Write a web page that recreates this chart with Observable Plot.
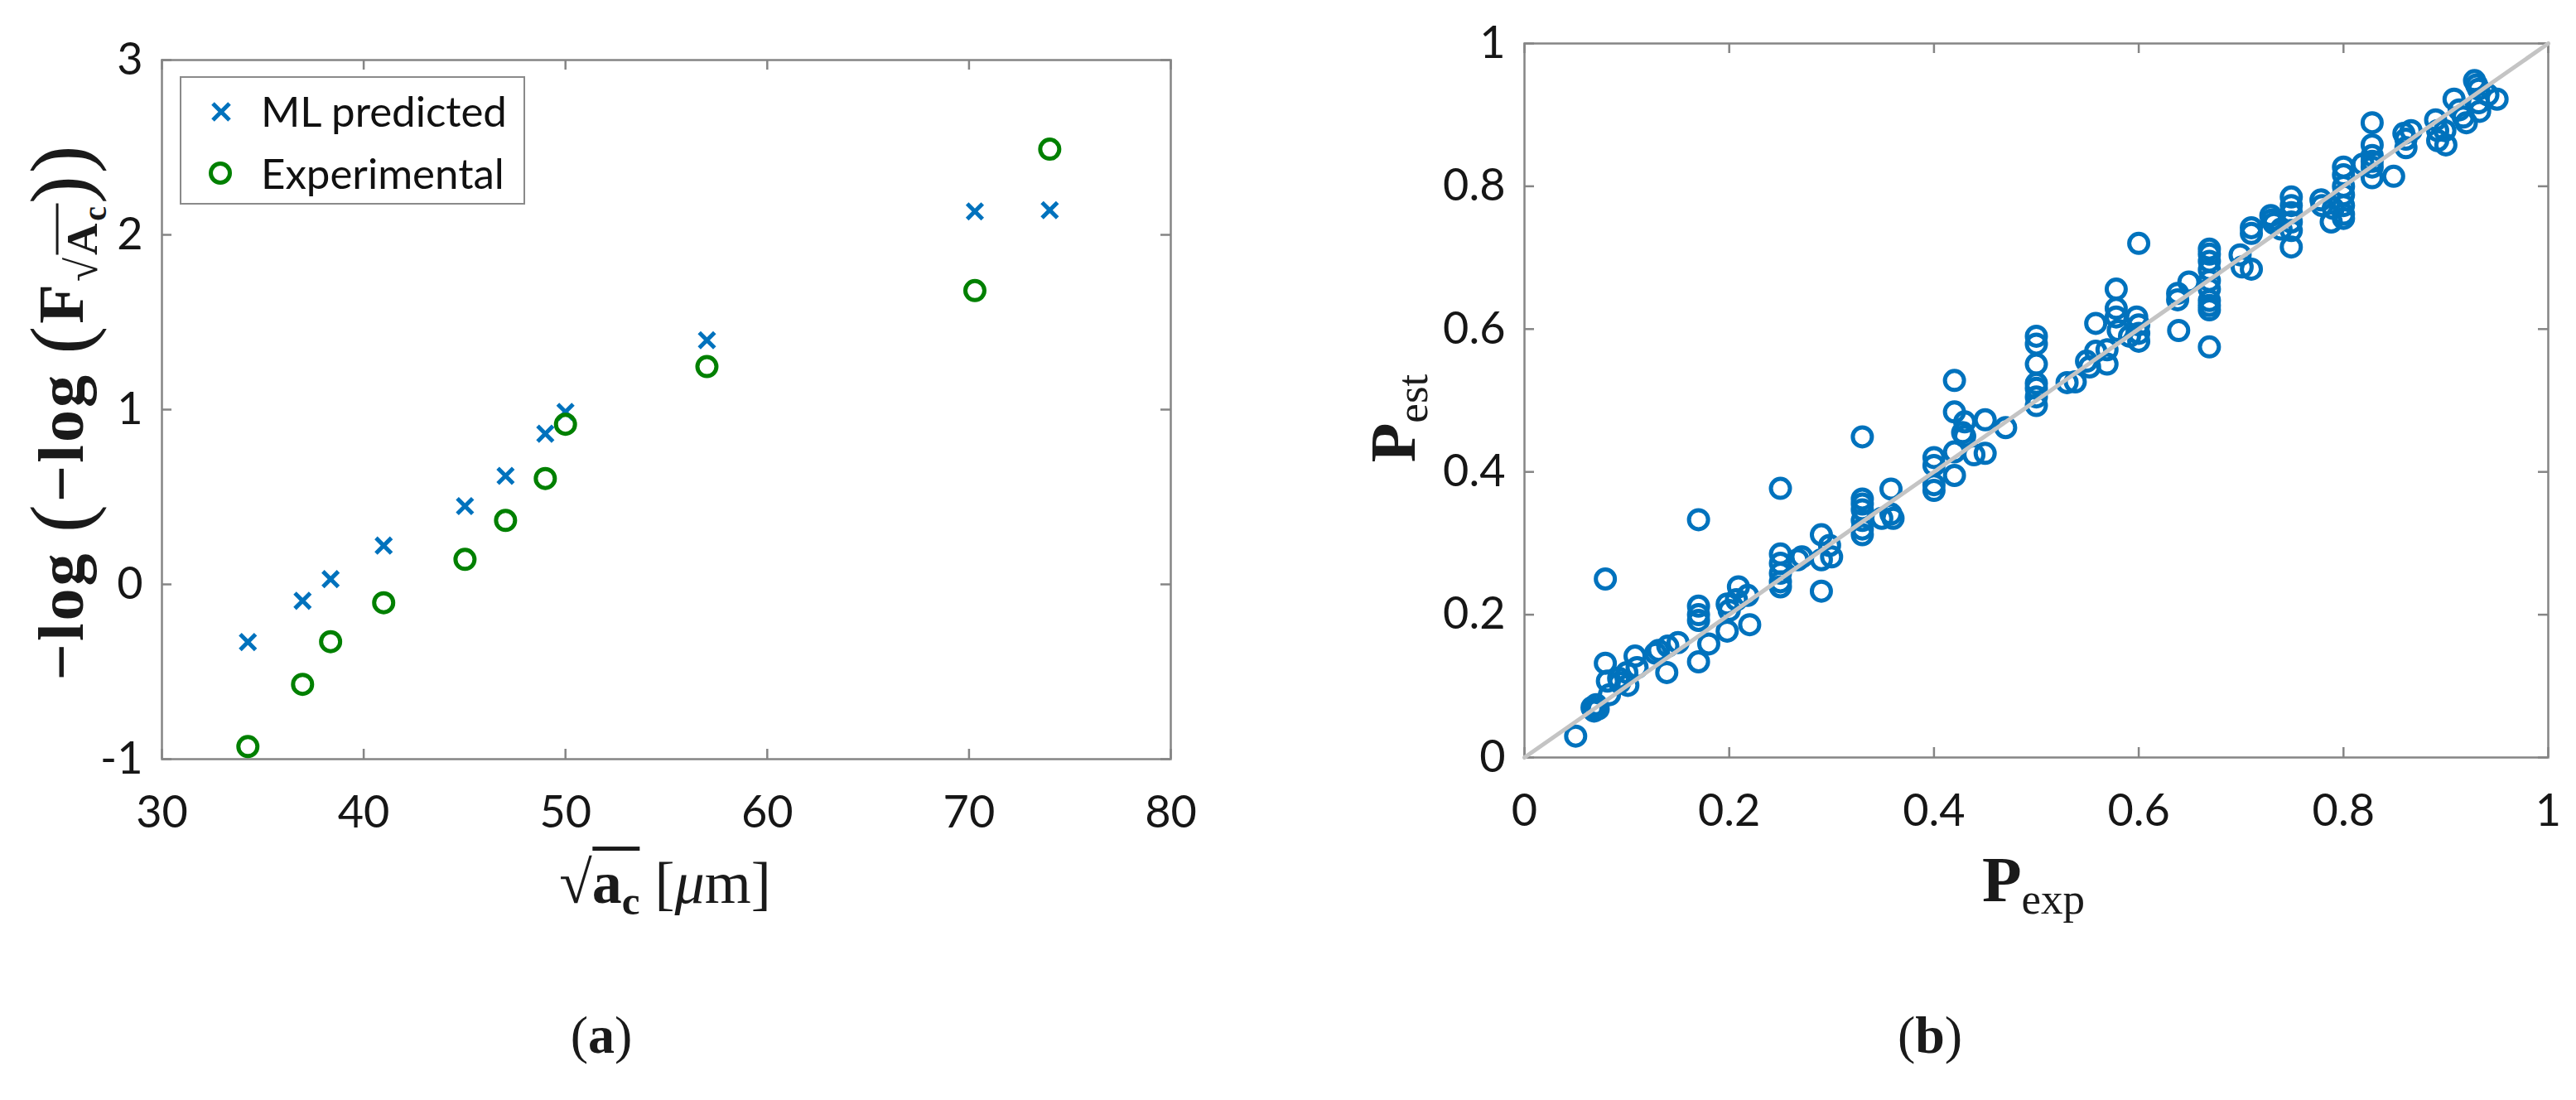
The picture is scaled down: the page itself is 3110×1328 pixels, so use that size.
<!DOCTYPE html>
<html><head><meta charset="utf-8">
<script src="https://cdn.jsdelivr.net/npm/d3@7"></script>
<script src="https://cdn.jsdelivr.net/npm/@observablehq/plot@0.6"></script>
<style>
html,body{margin:0;padding:0;background:#fff}
#root{position:relative;width:3110px;height:1328px;overflow:hidden;background:#fff}
.abs{position:absolute;white-space:nowrap;line-height:1}
.serif{font-family:"Liberation Serif","DejaVu Serif",serif;color:#1a1a1a}
.serif sub{font-size:0.68em;vertical-align:-0.28em;line-height:0}
.sw{font-size:0.68em;vertical-align:-0.3em;line-height:0}
.sw sub{font-size:0.75em}
.big{font-size:1.3em;font-weight:normal;vertical-align:-0.06em}
.ovl{display:inline-block;border-top:0.07em solid #1a1a1a;line-height:1;padding-top:0.04em}
#legend{left:217px;top:92px;width:413px;height:151px;border:2px solid #8a8a8a;background:#fff}
.legtext{font-family:Lato,"Noto Sans",sans-serif;font-size:51px;color:#111}
</style></head><body>
<div id="root">
  <div id="chartA" class="abs" style="left:0;top:0"></div>
  <div id="chartB" class="abs" style="left:1560px;top:0"></div>

  <div id="legend" class="abs">
    <svg class="abs" style="left:30px;top:23px" width="36" height="36"><path d="M8,8L28,28M28,8L8,28" stroke="#0072BD" stroke-width="5" fill="none"/></svg>
    <div class="abs legtext" style="left:96px;top:14px">ML predicted</div>
    <svg class="abs" style="left:28px;top:96px" width="38" height="38"><circle cx="19" cy="19" r="11.5" stroke="#008000" stroke-width="5" fill="none"/></svg>
    <div class="abs legtext" style="left:96px;top:89px">Experimental</div>
  </div>

  <div class="abs serif" style="left:74px;top:497px;transform:translate(-50%,-50%) rotate(-90deg);font-size:78px;font-weight:bold;letter-spacing:3px">&minus;log <span class="big">(</span>&minus;log <span class="big">(</span>F<span class="sw">&radic;<span class="ovl">A<sub>c</sub></span></span><span class="big">)</span><span class="big">)</span></div>
  <div class="abs serif" style="left:803px;top:1062px;transform:translate(-50%,-50%);font-size:72px">&radic;<span class="ovl"><b>a<sub>c</sub></b></span> [<i>&mu;</i>m]</div>

  <div class="abs serif" style="left:1682px;top:505px;transform:translate(-50%,-50%) rotate(-90deg);font-size:78px"><b>P</b><sub>est</sub></div>
  <div class="abs serif" style="left:2455px;top:1062px;transform:translate(-50%,-50%);font-size:78px"><b>P</b><sub>exp</sub></div>

  <div class="abs serif" style="left:726px;top:1250px;transform:translate(-50%,-50%);font-size:64px">(<b>a</b>)</div>
  <div class="abs serif" style="left:2330px;top:1250px;transform:translate(-50%,-50%);font-size:64px">(<b>b</b>)</div>
</div>
<script>
// ---------- Panel (a) data ----------
const sqrtAc       = [34.26, 36.97, 38.36, 40.99, 45.02, 47.03, 49.0, 50.0, 57.01, 70.29, 74.0];
const mlPredicted  = [-0.33, -0.094, 0.03, 0.222, 0.448, 0.621, 0.862, 0.987, 1.397, 2.134, 2.141];
const experimental = [-0.928, -0.572, -0.328, -0.105, 0.143, 0.366, 0.606, 0.916, 1.246, 1.681, 2.49];
const xTicksA = [30, 40, 50, 60, 70, 80];
const yTicksA = [-1, 0, 1, 2, 3];

// ---------- Panel (b) data ----------
const pExp = [0.05,0.066,0.068,0.07,0.072,0.079,0.079,0.081,0.083,0.092,0.093,0.1,0.101,0.108,0.11,0.128,0.131,0.139,0.14,0.15,
0.17,0.17,0.17,0.17,0.17,0.18,0.198,0.198,0.2,0.207,0.209,0.218,0.22,
0.25,0.25,0.25,0.25,0.25,0.25,0.267,0.271,0.29,0.29,0.29,0.298,0.3,
0.33,0.33,0.33,0.33,0.33,0.33,0.33,0.349,0.358,0.358,0.36,
0.4,0.4,0.4,0.4,0.42,0.42,0.42,0.42,0.428,0.43,0.43,0.439,0.45,0.45,0.47,
0.5,0.5,0.5,0.5,0.5,0.5,0.5,0.53,0.538,0.549,0.552,0.558,0.558,0.569,0.569,0.578,0.578,0.578,0.58,0.591,0.598,
0.6,0.6,0.6,0.6,0.638,0.638,0.639,0.649,
0.669,0.669,0.669,0.669,0.669,0.669,0.669,0.669,0.669,0.669,
0.699,0.701,0.71,0.71,0.71,0.729,0.73,0.732,0.739,0.749,0.749,0.749,0.749,0.749,0.749,
0.778,0.779,0.788,0.79,0.8,0.8,0.8,0.8,0.8,0.8,0.8,0.819,
0.828,0.828,0.828,0.828,0.828,0.828,0.849,0.859,0.861,0.861,0.866,
0.89,0.892,0.892,0.899,0.9,0.908,0.913,0.917,0.92,0.928,0.93,0.932,0.932,0.933,0.941,0.95];
const pEst = [0.03,0.07,0.065,0.074,0.068,0.132,0.25,0.107,0.088,0.111,0.105,0.119,0.101,0.142,0.126,0.146,0.15,0.119,0.156,0.161,
0.333,0.212,0.2,0.192,0.134,0.159,0.177,0.215,0.206,0.221,0.239,0.227,0.186,
0.377,0.285,0.272,0.258,0.246,0.239,0.277,0.281,0.312,0.277,0.233,0.297,0.281,
0.449,0.362,0.355,0.347,0.332,0.32,0.312,0.335,0.376,0.341,0.335,
0.42,0.409,0.382,0.374,0.528,0.484,0.428,0.395,0.455,0.47,0.45,0.424,0.473,0.426,0.462,
0.59,0.579,0.551,0.524,0.517,0.505,0.493,0.525,0.526,0.555,0.547,0.608,0.569,0.571,0.551,0.656,0.629,0.617,0.598,0.59,0.617,
0.72,0.606,0.594,0.583,0.65,0.641,0.598,0.666,
0.712,0.705,0.695,0.683,0.668,0.656,0.64,0.633,0.627,0.575,
0.704,0.687,0.684,0.742,0.734,0.759,0.753,0.748,0.74,0.785,0.773,0.763,0.75,0.738,0.715,
0.781,0.773,0.75,0.769,0.827,0.816,0.8,0.788,0.773,0.761,0.755,0.831,
0.889,0.858,0.843,0.835,0.827,0.812,0.814,0.874,0.866,0.854,0.878,
0.893,0.878,0.864,0.878,0.858,0.922,0.907,0.897,0.889,0.948,0.942,0.936,0.917,0.905,0.928,0.922];
const diagonal = [0, 1];
const ticksB = [0, 0.2, 0.4, 0.6, 0.8, 1];

// ---------- styles ----------
const axisGray = "#858585";
const blue = "#0072BD";
const green = "#008000";
const tickLen = 12;

function boxTicks(xt, yt, fw, fh) {
  return [
    Plot.tickX(xt, {x: d => d, stroke: axisGray, strokeWidth: 2.5, insetTop: fh - tickLen}),
    Plot.tickX(xt, {x: d => d, stroke: axisGray, strokeWidth: 2.5, insetBottom: fh - tickLen}),
    Plot.tickY(yt, {y: d => d, stroke: axisGray, strokeWidth: 2.5, insetRight: fw - tickLen}),
    Plot.tickY(yt, {y: d => d, stroke: axisGray, strokeWidth: 2.5, insetLeft: fw - tickLen}),
    Plot.frame({stroke: axisGray, strokeWidth: 2.5}),
    Plot.axisX(xt, {tickSize: 0, tickPadding: 44, tickFormat: d => String(d), fill: "#161616"}),
    Plot.axisY(yt, {tickSize: 0, tickPadding: 23, tickFormat: d => String(d), fill: "#161616"})
  ];
}

// ---------- Panel (a) ----------
const WA = 1500, HA = 1150, mlA = 195, mrA = 87, mtA = 72, mbA = 234;
const rowsA = sqrtAc.map((x, i) => ({x, ml: mlPredicted[i], exp: experimental[i]}));
const chartA = Plot.plot({
  width: WA, height: HA,
  marginLeft: mlA, marginRight: mrA, marginTop: mtA, marginBottom: mbA,
  style: {fontFamily: "Lato, 'Noto Sans', sans-serif", fontSize: "54px", background: "white", overflow: "visible"},
  x: {domain: [30, 80], label: null},
  y: {domain: [-1, 3], label: null},
  marks: [
    ...boxTicks(xTicksA, yTicksA, WA - mlA - mrA, HA - mtA - mbA),
    Plot.dot(rowsA, {x: "x", y: "ml", symbol: "times", r: 8.5, stroke: blue, strokeWidth: 5}),
    Plot.dot(rowsA, {x: "x", y: "exp", symbol: "circle", r: 11.5, stroke: green, strokeWidth: 5, fill: "none"})
  ]
});
document.getElementById("chartA").appendChild(chartA);

// ---------- Panel (b) ----------
const WB = 1550, HB = 1150, mlB = 280, mrB = 34, mtB = 52, mbB = 236;
const rowsB = pExp.map((x, i) => ({x, y: pEst[i]}));
const chartB = Plot.plot({
  width: WB, height: HB,
  marginLeft: mlB, marginRight: mrB, marginTop: mtB, marginBottom: mbB,
  style: {fontFamily: "Lato, 'Noto Sans', sans-serif", fontSize: "54px", background: "white", overflow: "visible"},
  x: {domain: [0, 1], label: null},
  y: {domain: [0, 1], label: null},
  marks: [
    ...boxTicks(ticksB, ticksB, WB - mlB - mrB, HB - mtB - mbB),
    Plot.dot(rowsB, {x: "x", y: "y", symbol: "circle", r: 11.5, stroke: blue, strokeWidth: 5, fill: "none"}),
    Plot.line(diagonal, {x: d => d, y: d => d, stroke: "#c4c4c4", strokeWidth: 5})
  ]
});
document.getElementById("chartB").appendChild(chartB);
</script>
</body></html>
